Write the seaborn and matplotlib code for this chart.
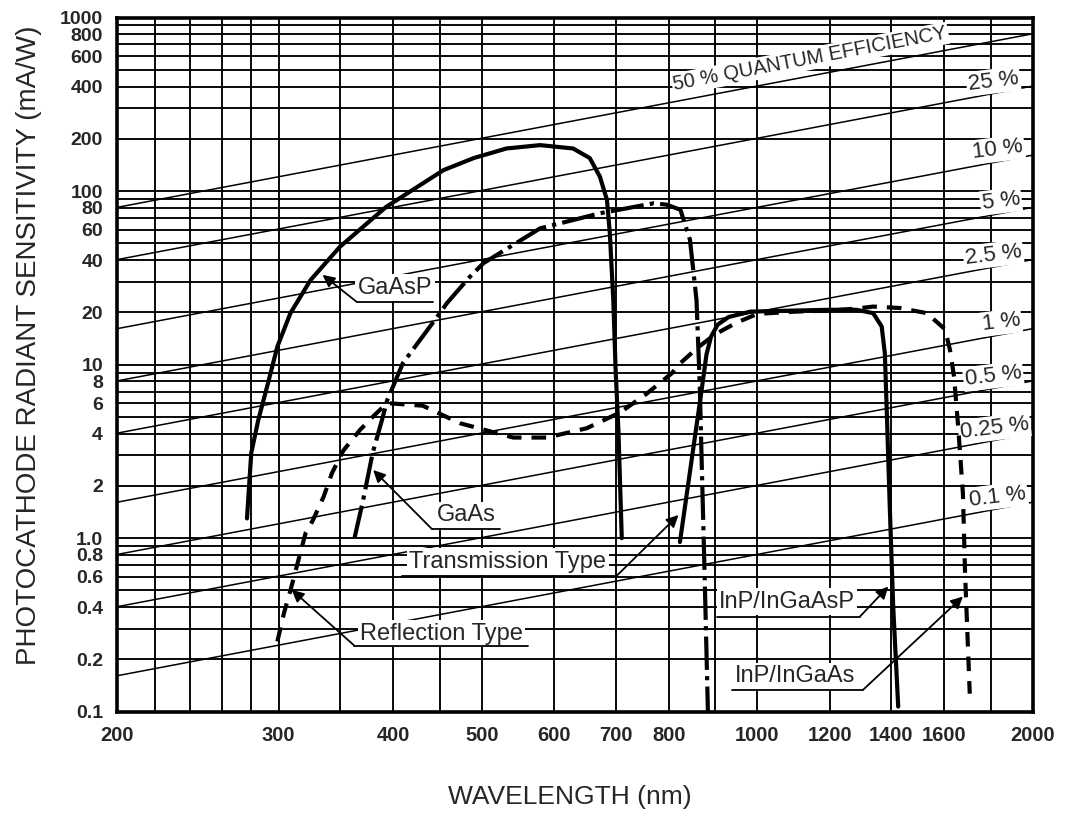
import numpy as np
import pandas as pd
import matplotlib
matplotlib.use("Agg")
import matplotlib.pyplot as plt
from matplotlib.ticker import NullFormatter, FixedLocator, FixedFormatter
import seaborn as sns

# ---- spectral response curves: wavelength (nm) / radiant sensitivity (mA/W)
gaasp_wl = [277, 280, 285, 292, 299, 309, 325, 350, 393, 454, 490, 532, 579,
            629, 656, 673, 685, 690, 696, 700, 705, 711]
gaasp_s = [1.3, 3.1, 4.8, 7.8, 12.7, 19.8, 30.7, 47.8, 81, 132, 155, 176, 184,
           176, 155, 121, 89, 57, 23.6, 9.5, 4.2, 1.0]

gaas_wl = [363, 371, 380, 389, 394, 410, 450, 458, 485, 502, 579, 673, 770,
           796, 824, 844, 858, 865, 869, 876, 883]
gaas_s = [1.0, 1.66, 3.1, 4.8, 6.2, 10.2, 19.8, 22.6, 32, 38.4, 61, 74.5, 85,
          83.5, 78, 52.5, 23.6, 7.8, 2.95, 0.575, 0.1]

ingaas_wl = [299, 304, 309, 314, 321, 327, 336, 343, 353, 368, 380, 394, 431,
             473, 541, 589, 651, 708, 732, 757, 806, 824, 860, 900, 950, 1000,
             1100, 1200, 1280, 1338, 1431, 1531, 1603, 1623, 1640, 1657, 1677,
             1686, 1706]
ingaas_s = [0.254, 0.37, 0.5, 0.69, 1.07, 1.27, 1.74, 2.37, 3.2, 4.2, 5.0, 6.0,
            5.8, 4.6, 3.8, 3.8, 4.3, 5.3, 6.0, 6.8, 8.9, 10.2, 12.5, 15, 17.5,
            19.6, 20.2, 20.5, 21.0, 21.6, 21.2, 19.8, 16, 12.2, 8.5, 4.4, 1.8,
            0.63, 0.127]

ingaasp_wl = [823, 869, 880, 890, 905, 930, 982, 1100, 1200, 1283, 1338, 1367,
              1378, 1384, 1395, 1407, 1425]
ingaasp_s = [0.95, 7.1, 11.5, 14.5, 17, 18.8, 20.2, 20.5, 20.7, 20.7, 19.8,
             16.6, 11.6, 5.8, 1.54, 0.41, 0.107]

# ---- constant quantum-efficiency guide lines (%)
qe_levels = [50, 25, 10, 5, 2.5, 1, 0.5, 0.25, 0.1]
qe_labels = ["50 % QUANTUM EFFICIENCY", "25 %", "10 %", "5 %", "2.5 %", "1 %",
             "0.5 %", "0.25 %", "0.1 %"]
qe_label_wl = [1150, 1810, 1830, 1845, 1810, 1845, 1810, 1815, 1830]

# ---- axis ticks / grid
x_grid = [200, 220, 240, 260, 280, 300, 350, 400, 450, 500, 600, 700, 800,
          900, 1000, 1200, 1400, 1600, 1800, 2000]
x_ticks = [200, 300, 400, 500, 600, 700, 800, 1000, 1200, 1400, 1600, 2000]
x_tick_labels = ["200", "300", "400", "500", "600", "700", "800", "1000",
                 "1200", "1400", "1600", "2000"]
y_ticks = [0.1, 0.2, 0.4, 0.6, 0.8, 1.0, 2, 4, 6, 8, 10, 20, 40, 60, 80, 100,
           200, 400, 600, 800, 1000]
y_tick_labels = ["0.1", "0.2", "0.4", "0.6", "0.8", "1.0", "2", "4", "6", "8",
                 "10", "20", "40", "60", "80", "100", "200", "400", "600",
                 "800", "1000"]

# ---- callouts: label, text anchor, underline (left wl, right wl, level), arrow tip, arrow side
callout_text = ["GaAsP", "GaAs", "Transmission Type", "Reflection Type",
                "InP/InGaAsP", "InP/InGaAs"]
callout_text_xy = [(402, 27.7), (481, 1.36), (534, 0.733), (452, 0.281),
                   (1077, 0.431), (1099, 0.160)]
callout_rule = [(365, 442, 23.0), (441, 524, 1.13), (409, 702, 0.607),
                (363, 561, 0.24), (903, 1294, 0.353), (938, 1305, 0.134)]
callout_tip = [(335, 32.9), (380.5, 2.47), (820, 1.36), (310, 0.504),
               (1390, 0.526), (1677, 0.461)]
callout_side = ["left", "left", "right", "left", "right", "right"]

sns.set_theme(style="white")
plt.rcParams['font.family'] = ['Liberation Sans', 'DejaVu Sans']

curves = pd.concat([
    pd.DataFrame({"wavelength": gaasp_wl, "sensitivity": gaasp_s, "curve": "GaAsP"}),
    pd.DataFrame({"wavelength": gaas_wl, "sensitivity": gaas_s, "curve": "GaAs"}),
    pd.DataFrame({"wavelength": ingaas_wl, "sensitivity": ingaas_s, "curve": "InP/InGaAs"}),
    pd.DataFrame({"wavelength": ingaasp_wl, "sensitivity": ingaasp_s, "curve": "InP/InGaAsP"}),
], ignore_index=True)
dash_map = {"GaAsP": "", "GaAs": (8, 1.5, 1, 1.5), "InP/InGaAs": (3.5, 2.4),
            "InP/InGaAsP": ""}

fig = plt.figure(figsize=(10.68, 8.16), dpi=100)
ax = fig.add_axes([0.1100, 0.1278, 0.8572, 0.8507])
ax.set_xscale("log")
ax.set_yscale("log")
ax.set_xlim(200, 2000)
ax.set_ylim(0.1, 1000)

# grid
y_grid = [m * 10.0 ** e for e in range(-1, 3) for m in range(1, 10)] + [1000]
ax.xaxis.set_major_locator(FixedLocator(x_ticks))
ax.xaxis.set_major_formatter(FixedFormatter(x_tick_labels))
ax.xaxis.set_minor_locator(FixedLocator(x_grid))
ax.xaxis.set_minor_formatter(NullFormatter())
ax.yaxis.set_major_locator(FixedLocator(y_ticks))
ax.yaxis.set_major_formatter(FixedFormatter(y_tick_labels))
ax.yaxis.set_minor_locator(FixedLocator(y_grid))
ax.yaxis.set_minor_formatter(NullFormatter())
ax.set_axisbelow(True)
ax.grid(True, which="both", color="black", linewidth=1.35)
ax.tick_params(which="both", length=0)
ax.tick_params(axis="x", pad=10, labelsize=14.5)
ax.tick_params(axis="y", pad=10.5, labelsize=14)
for lab in ax.get_xticklabels() + ax.get_yticklabels():
    lab.set_fontweight("bold")
for sp in ax.spines.values():
    sp.set_color("black")
    sp.set_linewidth(2.6)

# quantum efficiency lines: S[mA/W] = QE * wavelength[nm] / 1.24
qe_wl = np.array([200.0, 2000.0])
for q in qe_levels:
    ax.plot(qe_wl, q / 100.0 * qe_wl / 1.24, color="black", lw=1.1, zorder=1.6)

p0 = ax.transData.transform((200, 0.5 * 200 / 1.24))
p1 = ax.transData.transform((2000, 0.5 * 2000 / 1.24))
qe_angle = np.degrees(np.arctan2(p1[1] - p0[1], p1[0] - p0[0]))

for q, txt, wl in zip(qe_levels, qe_labels, qe_label_wl):
    big = q == 50
    ax.annotate(txt, xy=(wl, q / 100.0 * wl / 1.24), xycoords="data",
                xytext=(-2, 12) if big else (0, 8.8), textcoords="offset points",
                ha="center", va="center", rotation=qe_angle if big else 7,
                rotation_mode="anchor", fontsize=14.5 if big else 16,
                bbox=dict(boxstyle="square,pad=0.08", fc="white", ec="none"),
                zorder=3)

# response curves
sns.lineplot(data=curves, x="wavelength", y="sensitivity", style="curve",
             dashes=dash_map, color="black", linewidth=3, estimator=None,
             sort=False, legend=False, ax=ax, zorder=4)
for ln in ax.get_lines():
    ln.set_dash_capstyle("butt")
ax.set_xlabel("")
ax.set_ylabel("")

# callouts
for txt, txy, rule, tip, side in zip(callout_text, callout_text_xy, callout_rule,
                                     callout_tip, callout_side):
    ax.text(txy[0], txy[1], txt, fontsize=17, ha="center", va="center",
            bbox=dict(boxstyle="square,pad=0.1", fc="white", ec="none"), zorder=5)
    ax.plot([rule[0], rule[1]], [rule[2], rule[2]], color="black", lw=1.3, zorder=6)
    start = (rule[0], rule[2]) if side == "left" else (rule[1], rule[2])
    ax.annotate("", xy=tip, xytext=start,
                arrowprops=dict(arrowstyle="-|>", color="black", lw=1.3,
                                mutation_scale=18, shrinkA=0, shrinkB=0),
                zorder=6)

fig.text(570 / 1068, 1 - 797 / 816, "WAVELENGTH (nm)", fontsize=19,
         ha="center", va="center")
fig.text(29 / 1068, 1 - 345 / 816, "PHOTOCATHODE RADIANT SENSITIVITY (mA/W)",
         fontsize=20, rotation=90, ha="center", va="center")

fig.savefig("out.png", dpi=100)
